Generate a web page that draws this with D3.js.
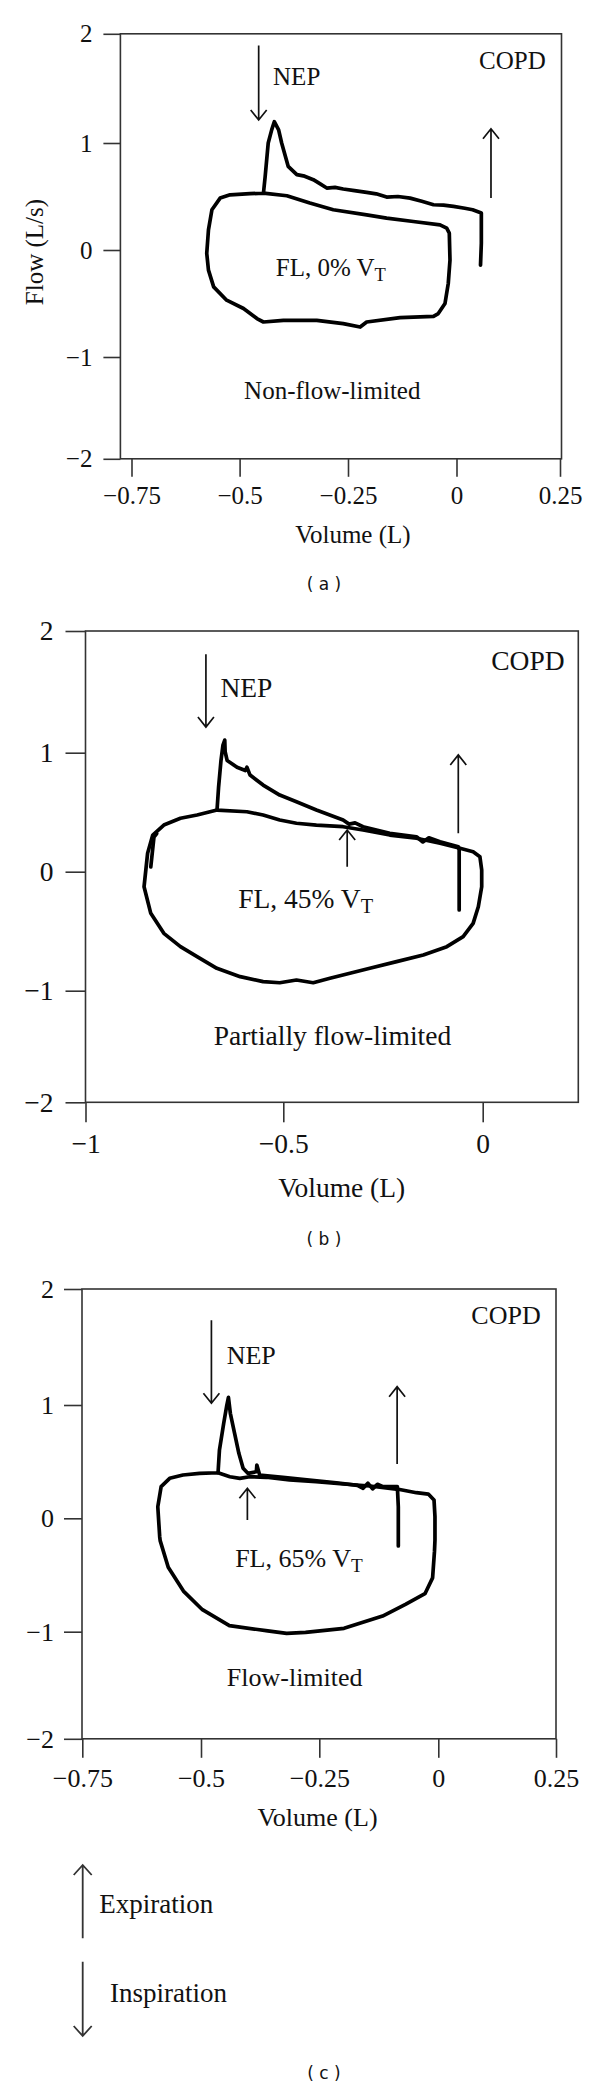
<!DOCTYPE html>
<html><head><meta charset="utf-8">
<script src="https://cdn.jsdelivr.net/npm/d3@7"></script>
<style>body{margin:0;background:#fff} svg{display:block}</style>
</head><body>
<svg id="chart" width="600" height="2087"></svg>
<script>
// ---------------- DATA (volume L, flow L/s) ----------------
const flowTicks = [-2, -1, 0, 1, 2];
const volTicksA = [-0.75, -0.5, -0.25, 0, 0.25];
const volTicksB = [-1, -0.5, 0];
const volTicksC = [-0.75, -0.5, -0.25, 0, 0.25];

// Panel (a) – non-flow-limited
const loopA = [[-0.445,0.532],[-0.391,0.507],[-0.338,0.439],[-0.284,0.376],[-0.207,0.329],[-0.161,0.298],[-0.0995,0.266],[-0.038,0.235],[-0.0226,0.204],[-0.0166,0.157],[-0.015,-0.094],[-0.019,-0.313],[-0.0265,-0.50],[-0.042,-0.594],[-0.053,-0.62],[-0.130,-0.632],[-0.207,-0.673],[-0.222,-0.72],[-0.261,-0.688],[-0.322,-0.657],[-0.399,-0.657],[-0.445,-0.673],[-0.46,-0.641],[-0.491,-0.547],[-0.530,-0.469],[-0.560,-0.345],[-0.572,-0.188],[-0.576,-0.031],[-0.572,0.188],[-0.564,0.376],[-0.545,0.485],[-0.522,0.516],[-0.476,0.526],[-0.445,0.532]];
const nepA = [[-0.445,0.532],[-0.441,0.688],[-0.434,1.0],[-0.426,1.12],[-0.420,1.195],[-0.41,1.12],[-0.403,1.0],[-0.388,0.782],[-0.368,0.704],[-0.35,0.69],[-0.33,0.657],[-0.315,0.62],[-0.299,0.579],[-0.28,0.585],[-0.261,0.57],[-0.235,0.555],[-0.207,0.538],[-0.185,0.525],[-0.161,0.495],[-0.135,0.50],[-0.107,0.485],[-0.08,0.455],[-0.053,0.423],[-0.03,0.42],[-0.007,0.407],[0.02,0.39],[0.039,0.376],[0.06,0.345],[0.06,0.063],[0.058,-0.141]];

// Panel (b) – partially flow-limited
const loopB = [[-0.6675,0.518],[-0.592,0.504],[-0.551,0.476],[-0.509,0.434],[-0.467,0.407],[-0.417,0.392],[-0.350,0.378],[-0.300,0.350],[-0.233,0.308],[-0.166,0.281],[-0.107,0.239],[-0.057,0.197],[-0.024,0.168],[-0.007,0.126],[-0.0025,0.014],[-0.0025,-0.126],[-0.011,-0.294],[-0.024,-0.434],[-0.049,-0.546],[-0.090,-0.630],[-0.149,-0.700],[-0.216,-0.756],[-0.283,-0.812],[-0.333,-0.854],[-0.383,-0.896],[-0.425,-0.933],[-0.467,-0.910],[-0.509,-0.933],[-0.551,-0.924],[-0.609,-0.882],[-0.668,-0.812],[-0.718,-0.714],[-0.760,-0.630],[-0.802,-0.518],[-0.835,-0.350],[-0.852,-0.126],[-0.843,0.155],[-0.830,0.308],[-0.802,0.392],[-0.760,0.449],[-0.718,0.476],[-0.6675,0.518]];
const nepB = [[-0.6675,0.518],[-0.6635,0.714],[-0.6575,0.935],[-0.6525,1.063],[-0.648,1.104],[-0.647,1.008],[-0.642,0.935],[-0.617,0.878],[-0.596,0.850],[-0.592,0.878],[-0.584,0.812],[-0.551,0.728],[-0.509,0.644],[-0.467,0.588],[-0.417,0.518],[-0.350,0.434],[-0.335,0.40],[-0.320,0.41],[-0.300,0.378],[-0.233,0.323],[-0.166,0.294],[-0.150,0.25],[-0.135,0.285],[-0.107,0.252],[-0.061,0.210],[-0.059,0.182],[-0.059,-0.322]];
const innerB = [[-0.82,0.32],[-0.827,0.29],[-0.835,0.04]];

// Panel (c) – flow-limited
const loopC = [[-0.464,0.402],[-0.439,0.367],[-0.418,0.353],[-0.397,0.367],[-0.362,0.362],[-0.313,0.338],[-0.257,0.323],[-0.200,0.303],[-0.144,0.285],[-0.084,0.256],[-0.046,0.226],[-0.021,0.214],[-0.009,0.162],[-0.007,0.014],[-0.007,-0.192],[-0.008,-0.29],[-0.012,-0.525],[-0.028,-0.665],[-0.069,-0.759],[-0.117,-0.862],[-0.198,-0.97],[-0.279,-1.007],[-0.319,-1.016],[-0.359,-0.993],[-0.44,-0.946],[-0.497,-0.806],[-0.537,-0.642],[-0.569,-0.431],[-0.586,-0.197],[-0.587,-0.162],[-0.591,0.102],[-0.584,0.279],[-0.566,0.353],[-0.538,0.382],[-0.503,0.397],[-0.464,0.402]];
const nepC = [[-0.464,0.402],[-0.461,0.603],[-0.452,0.839],[-0.446,0.985],[-0.442,1.066],[-0.438,0.927],[-0.429,0.75],[-0.420,0.574],[-0.411,0.441],[-0.401,0.397],[-0.383,0.411],[-0.382,0.47],[-0.376,0.382],[-0.327,0.362],[-0.271,0.338],[-0.214,0.314],[-0.17,0.29],[-0.158,0.265],[-0.148,0.31],[-0.138,0.26],[-0.128,0.30],[-0.116,0.279],[-0.086,0.279],[-0.084,0.102],[-0.084,-0.244]];

// Annotations (volume, flow)
const arrowsA = [[-0.456,1.894,1.211],[0.0833,0.486,1.13]];
const arrowsB = [[-0.6956,1.809,1.211],[-0.0612,0.323,0.981],[-0.3398,0.042,0.350]];
const arrowsC = [[-0.478,1.73,1.015],[-0.0865,0.479,1.158],[-0.402,-0.015,0.265]];
const notesA = [["COPD",0.135,1.682,"middle"],["NEP",-0.4228,1.527,"start"],["Non-flow-limited",-0.2863,-1.409,"middle"]];
const notesB = [["COPD",0.1134,1.677,"middle"],["NEP",-0.659,1.455,"start"],["Partially flow-limited",-0.3769,-1.4866,"middle"]];
const notesC = [["COPD",0.1439,1.698,"middle"],["NEP",-0.4458,1.353,"start"],["Flow-limited",-0.302,-1.51,"middle"]];
const flNotes = [["FL, 0% V","T",-0.2896,-0.243],["FL, 45% V","T",-0.4438,-0.3076],["FL, 65% V","T",-0.293,-0.43]];

// ---------------- LAYOUT ----------------
const serif = "'Liberation Serif', 'Times New Roman', serif";
const axisColor = "#333";
const textColor = "#111";
const panels = [
  {xTicks:volTicksA, xPx:[131.5,239.6,348,456.5,560], frameX:[120.4,561.5], yPx:[458.8,357,250,143,33.8], fs:25,
   yTick:17, yPad:11, xTick:18, xPad:9, title:[352.9,543], sub:["( a )",324,590],
   curves:[loopA,nepA], arrows:arrowsA, notes:notesA, fl:flNotes[0]},
  {xTicks:volTicksB, xPx:[85.5,283.3,482.7], frameX:[85.5,578.3], yPx:[1102.3,990.7,871.7,752.7,631], fs:27.5,
   yTick:20, yPad:12, xTick:20, xPad:11, title:[341.7,1196.7], sub:["( b )",324,1245],
   curves:[loopB,nepB,innerB], arrows:arrowsB, notes:notesB, fl:flNotes[1]},
  {xTicks:volTicksC, xPx:[82.3,201,319.3,438.3,556], frameX:[82,556], yPx:[1738.8,1631.7,1518.3,1405,1289], fs:26,
   yTick:18, yPad:10, xTick:19, xPad:11, title:[317.5,1826], sub:["( c )",324,2079],
   curves:[loopC,nepC], arrows:arrowsC, notes:notesC, fl:flNotes[2]}
];

const svg = d3.select('#chart');
svg.append('rect').attr('width',600).attr('height',2087).attr('fill','#fff');
const fmt = d => (d < 0 ? '\u2212' : '') + String(Math.abs(d));

function arrowPath(x1, y1, x2, y2, L, W) {
  const dx = x2 - x1, dy = y2 - y1, len = Math.hypot(dx, dy);
  const ux = dx / len, uy = dy / len, px = -uy, py = ux;
  const bx = x2 - ux * L, by = y2 - uy * L;
  return `M${x1},${y1}L${x2},${y2}M${bx + px * W},${by + py * W}L${x2},${y2}L${bx - px * W},${by - py * W}`;
}

panels.forEach(p => {
  const x = d3.scaleLinear().domain(p.xTicks).range(p.xPx);
  const y = d3.scaleLinear().domain(flowTicks).range(p.yPx);
  const g = svg.append('g');
  const top = y(2), bot = y(-2);

  g.append('rect').attr('x', p.frameX[0]).attr('y', top)
    .attr('width', p.frameX[1] - p.frameX[0]).attr('height', bot - top)
    .attr('fill', 'none').attr('stroke', axisColor).attr('stroke-width', 1.6);

  const ya = g.append('g').attr('transform', `translate(${p.frameX[0]},0)`)
    .call(d3.axisLeft(y).tickValues(flowTicks).tickFormat(fmt).tickSize(p.yTick).tickPadding(p.yPad));
  ya.select('.domain').remove();
  ya.selectAll('line').attr('stroke', axisColor).attr('stroke-width', 1.6);
  ya.selectAll('text').attr('font-family', serif).attr('font-size', p.fs).attr('fill', textColor);

  const xa = g.append('g').attr('transform', `translate(0,${bot})`)
    .call(d3.axisBottom(x).tickValues(p.xTicks).tickFormat(fmt).tickSize(p.xTick).tickPadding(p.xPad));
  xa.select('.domain').remove();
  xa.selectAll('line').attr('stroke', axisColor).attr('stroke-width', 1.6);
  xa.selectAll('text').attr('font-family', serif).attr('font-size', p.fs).attr('fill', textColor);

  g.append('text').attr('x', p.title[0]).attr('y', p.title[1]).attr('text-anchor', 'middle')
    .attr('font-family', serif).attr('font-size', p.fs).attr('fill', textColor).text('Volume (L)');

  g.append('text').attr('x', p.sub[1]).attr('y', p.sub[2]).attr('text-anchor', 'middle')
    .attr('font-family', "'DejaVu Sans', sans-serif").attr('font-size', 17).attr('fill', textColor)
    .attr('xml:space', 'preserve').style('white-space', 'pre').text(p.sub[0]);

  const line = d3.line().x(d => x(d[0])).y(d => y(d[1]));
  p.curves.forEach(c => {
    g.append('path').attr('d', line(c)).attr('fill', 'none').attr('stroke', '#000')
      .attr('stroke-width', 3.7).attr('stroke-linejoin', 'round').attr('stroke-linecap', 'round');
  });

  p.arrows.forEach(a => {
    g.append('path').attr('d', arrowPath(x(a[0]), y(a[1]), x(a[0]), y(a[2]), 10, 8))
      .attr('fill', 'none').attr('stroke', '#111').attr('stroke-width', 1.7);
  });

  p.notes.forEach(n => {
    g.append('text').attr('x', x(n[1])).attr('y', y(n[2])).attr('text-anchor', n[3])
      .attr('font-family', serif).attr('font-size', p.fs).attr('fill', textColor).text(n[0]);
  });

  const t = g.append('text').attr('x', x(p.fl[2])).attr('y', y(p.fl[3])).attr('text-anchor', 'middle')
    .attr('font-family', serif).attr('font-size', p.fs).attr('fill', textColor);
  t.append('tspan').text(p.fl[0]);
  t.append('tspan').attr('font-size', p.fs * 0.74).attr('dy', 5).text(p.fl[1]);
});

// Flow axis title (panel a)
svg.append('text').attr('transform', 'translate(43,252) rotate(-90)').attr('text-anchor', 'middle')
  .attr('font-family', serif).attr('font-size', 25).attr('fill', textColor).text('Flow (L/s)');

// Legend
const leg = svg.append('g');
leg.append('path').attr('d', arrowPath(82.7, 1938.3, 82.7, 1865, 10, 9))
  .attr('fill', 'none').attr('stroke', '#333').attr('stroke-width', 1.8);
leg.append('path').attr('d', arrowPath(82.7, 1961.7, 82.7, 2036, 10, 9))
  .attr('fill', 'none').attr('stroke', '#333').attr('stroke-width', 1.8);
leg.append('text').attr('x', 99.3).attr('y', 1913.3).attr('font-family', serif).attr('font-size', 27)
  .attr('fill', textColor).text('Expiration');
leg.append('text').attr('x', 110).attr('y', 2001.7).attr('font-family', serif).attr('font-size', 27)
  .attr('fill', textColor).text('Inspiration');
</script>
</body></html>
